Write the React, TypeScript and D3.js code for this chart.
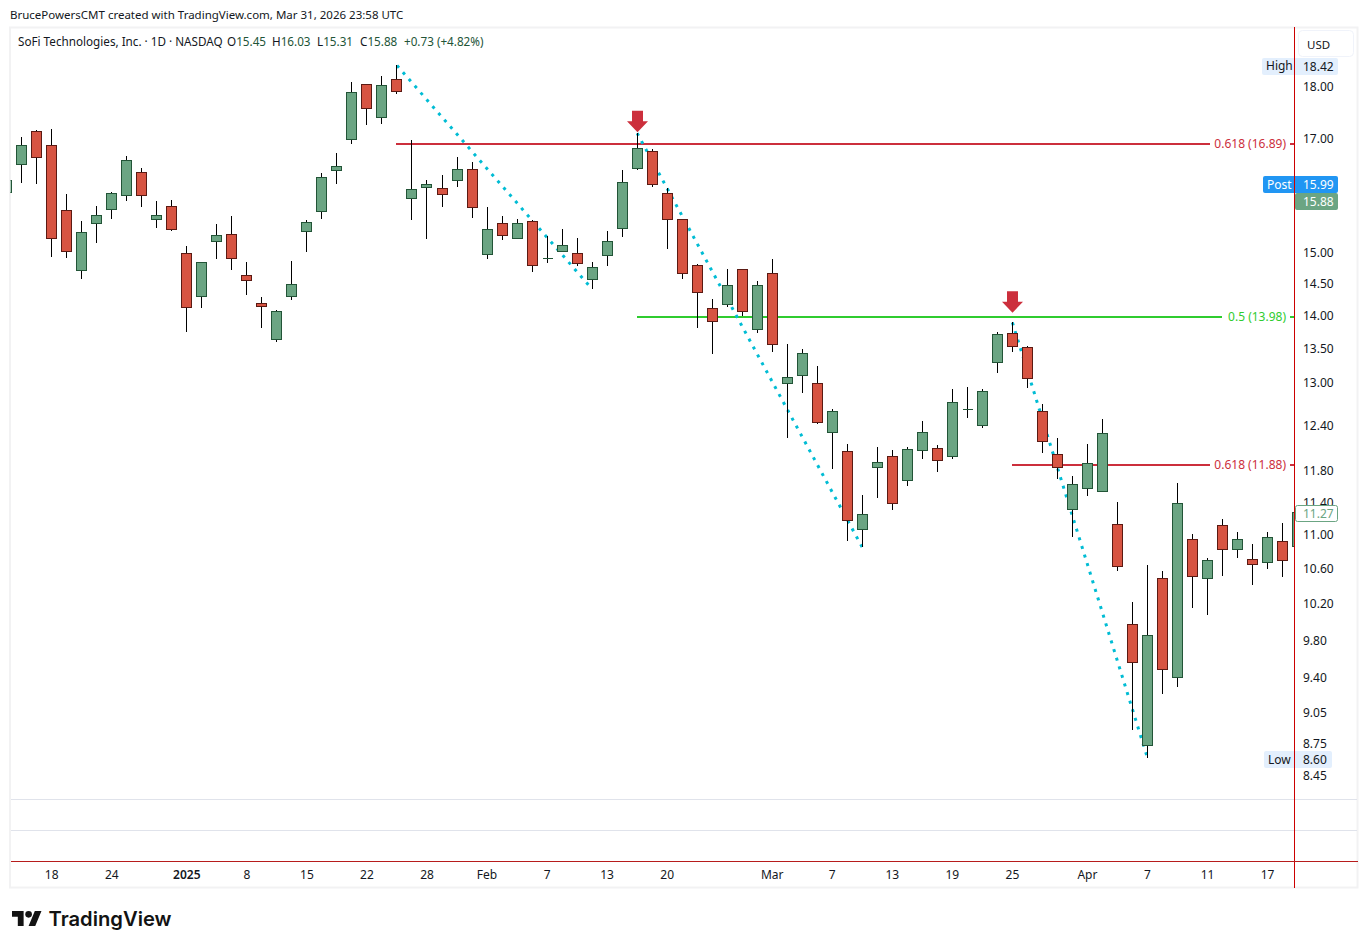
import * as d3 from 'd3'

const FONT = '"Noto Sans", sans-serif'
const INK = '#131722'
const UP_FILL = '#6ba583'
const UP_EDGE = '#225437'
const DOWN_FILL = '#d75442'
const DOWN_EDGE = '#5b1a13'
const DOTS = '#00bcd4'
const MARKER = '#cc2f3c'

const WIDTH = 1368
const HEIGHT = 949
const PANE = { left: 10, right: 1294.5, top: 27, bottom: 799 }

// daily bars, first one is cut off by the left edge of the pane
const opens = [
  16.02, 16.53, 17.14, 16.87, 15.71, 14.71, 15.49, 15.73, 15.97, 16.38, 15.56, 15.78, 14.99, 14.3, 15.19, 15.3, 14.63,
  14.19, 13.64, 14.3, 15.35, 15.69, 16.42, 16.99, 18.04, 17.4, 18.14, 15.92, 16.11, 16.1, 16.24, 16.44, 14.96, 15.49,
  15.23, 15.52, 14.9, 15.01, 14.99, 14.56, 14.95, 15.4, 16.45, 16.76, 16.01, 15.56, 14.79, 14.11, 14.17, 14.73, 13.79,
  14.65, 12.99, 13.11, 12.99, 12.31, 12.06, 11.06, 11.85, 11.99, 11.68, 12.07, 12.1, 11.99, 12.63, 12.41, 13.3, 13.73,
  13.51, 12.6, 12.02, 11.31, 11.58, 11.54, 11.13, 9.97, 8.73, 10.49, 9.4, 10.94, 10.48, 11.12, 10.82, 10.71, 10.67,
  10.92, 10.86,
]
const highs = [
  16.3, 17.02, 17.16, 17.18, 16.0, 15.52, 15.79, 16.03, 16.68, 16.46, 15.87, 15.89, 15.11, 14.84, 15.48, 15.61, 14.84,
  14.28, 14.08, 14.86, 15.55, 16.36, 16.73, 18.08, 18.04, 18.2, 18.42, 16.97, 16.24, 16.33, 16.65, 16.56, 15.77, 15.61,
  15.56, 15.54, 15.27, 15.39, 15.24, 14.84, 15.35, 16.42, 17.1, 16.8, 16.1, 15.56, 14.81, 14.26, 14.73, 14.73, 14.53,
  14.9, 13.56, 13.49, 13.24, 12.63, 12.16, 11.49, 12.11, 12.08, 12.11, 12.46, 12.14, 12.91, 12.94, 12.91, 13.75, 13.89,
  13.54, 12.7, 12.23, 11.73, 12.15, 12.49, 11.41, 10.22, 10.64, 10.57, 11.64, 11.01, 10.72, 11.19, 11.04, 10.89, 11.04,
  11.14, 11.27,
]
const lows = [
  15.95, 16.19, 16.18, 14.93, 14.91, 14.57, 15.16, 15.57, 15.88, 15.77, 15.41, 15.35, 13.75, 14.12, 14.9, 14.72, 14.32,
  13.81, 13.6, 14.23, 15.0, 15.57, 16.18, 16.89, 17.26, 17.28, 17.86, 15.55, 15.23, 15.76, 16.11, 15.58, 14.9, 15.2,
  15.23, 14.69, 14.83, 15.0, 14.78, 14.41, 14.78, 15.25, 16.43, 16.11, 15.06, 14.57, 13.81, 13.42, 14.13, 13.99, 13.73,
  13.44, 12.24, 12.85, 12.42, 11.82, 10.93, 10.85, 11.45, 11.31, 11.61, 11.96, 11.79, 11.96, 12.5, 12.37, 13.14, 13.45,
  12.93, 12.03, 11.69, 10.98, 11.48, 11.54, 10.57, 8.88, 8.61, 9.24, 9.31, 10.15, 10.07, 10.51, 10.72, 10.41, 10.59,
  10.5, 10.86,
]
const closes = [
  16.24, 16.87, 16.65, 15.24, 15.02, 15.34, 15.63, 16.01, 16.6, 15.97, 15.63, 15.39, 14.12, 14.84, 15.29, 14.9, 14.55,
  14.14, 14.06, 14.48, 15.51, 16.29, 16.49, 17.89, 17.57, 18.02, 17.91, 16.08, 16.17, 15.99, 16.44, 15.76, 15.39,
  15.28, 15.49, 14.79, 14.9, 15.12, 14.82, 14.76, 15.19, 16.2, 16.82, 16.17, 15.56, 14.66, 14.36, 13.91, 14.47, 14.06,
  14.47, 13.56, 13.08, 13.43, 12.45, 12.59, 11.18, 11.25, 11.91, 11.39, 12.08, 12.31, 11.94, 12.72, 12.63, 12.87, 13.71,
  13.53, 13.06, 12.19, 11.85, 11.63, 11.9, 12.3, 10.63, 9.56, 9.85, 9.49, 11.39, 10.51, 10.7, 10.82, 10.94, 10.65,
  10.97, 10.69, 11.27,
]

const priceTicks = [18, 17, 15, 14.5, 14, 13.5, 13, 12.4, 11.8, 11.4, 11, 10.6, 10.2, 9.8, 9.4, 9.05, 8.75, 8.45]
const timeTicks = [
  { bar: 3, label: '18' },
  { bar: 7, label: '24' },
  { bar: 12, label: '2025', bold: true },
  { bar: 16, label: '8' },
  { bar: 20, label: '15' },
  { bar: 24, label: '22' },
  { bar: 28, label: '28' },
  { bar: 32, label: 'Feb' },
  { bar: 36, label: '7' },
  { bar: 40, label: '13' },
  { bar: 44, label: '20' },
  { bar: 51, label: 'Mar' },
  { bar: 55, label: '7' },
  { bar: 59, label: '13' },
  { bar: 63, label: '19' },
  { bar: 67, label: '25' },
  { bar: 72, label: 'Apr' },
  { bar: 76, label: '7' },
  { bar: 80, label: '11' },
  { bar: 84, label: '17' },
]

const fibLevels = [
  { from: 26, price: 16.9, end: 1210, label: '0.618 (16.89)', color: '#cc2f3c' },
  { from: 42, price: 13.98, end: 1222, label: '0.5 (13.98)', color: '#2fcc2f' },
  { from: 67, price: 11.88, end: 1210, label: '0.618 (11.88)', color: '#cc2f3c' },
]
const trendLines = [
  { from: 26, fromPrice: 18.42, to: 39, toPrice: 14.41 },
  { from: 42, fromPrice: 17.1, to: 57, toPrice: 10.85 },
  { from: 67, fromPrice: 13.89, to: 76, toPrice: 8.61 },
]
const arrows = [
  { bar: 42, price: 17.12 },
  { bar: 67, price: 14.04 },
]

const x = d3.scaleLinear().domain([0, 86]).range([6.7, 1297.6])
const y = d3.scaleLog().domain([18, 8.45]).range([86.5, 775])
const barX = (i: number) => Math.round(x(i) - 0.5) + 0.5
const crisp = (v: number) => Math.round(v - 0.5) + 0.5

function bodyPath(i: number) {
  const p = d3.path()
  const top = crisp(y(Math.max(opens[i], closes[i])))
  const bottom = crisp(y(Math.min(opens[i], closes[i])))
  p.rect(barX(i) - 5, top, 10, bottom - top)
  return p.toString()
}

const trendPath = d3
  .line<[number, number]>()
  .x((d) => x(d[0]))
  .y((d) => y(d[1]))

function arrowPath(bar: number, price: number) {
  const cx = barX(bar)
  const tip = y(price)
  const p = d3.path()
  p.moveTo(cx, tip)
  p.lineTo(cx - 10.5, tip - 11)
  p.lineTo(cx - 5.5, tip - 11)
  p.lineTo(cx - 5.5, tip - 21.5)
  p.lineTo(cx + 5.5, tip - 21.5)
  p.lineTo(cx + 5.5, tip - 11)
  p.lineTo(cx + 10.5, tip - 11)
  p.closePath()
  return p.toString()
}

export default function App() {
  return (
    <svg
      width={WIDTH}
      height={HEIGHT}
      style={{ position: 'absolute', left: 0, top: 0, background: '#fff' }}
      fontFamily={FONT}
      fontSize={12}
      fill={INK}
    >
      <defs>
        <clipPath id="pane">
          <rect x={PANE.left + 0.5} y={PANE.top} width={PANE.right - PANE.left} height={PANE.bottom - PANE.top} />
        </clipPath>
      </defs>

      <text x={10} y={19} fontSize={11.5}>
        BrucePowersCMT created with TradingView.com, Mar 31, 2026 23:58 UTC
      </text>

      {/* frame and lower panes */}
      <rect x={10} y={27.5} width={1347.5} height={860} fill="none" stroke="#f2f2f3" strokeWidth={2} />
      <line x1={11} x2={1357} y1={799.5} y2={799.5} stroke="#e0e3eb" />
      <line x1={11} x2={1357} y1={830.5} y2={830.5} stroke="#e0e3eb" />

      {/* fib levels sit behind the candles */}
      {fibLevels.map((f) => (
        <g key={f.label} stroke={f.color} strokeWidth={2} shapeRendering="crispEdges">
          <line x1={barX(f.from) - 1} x2={f.end} y1={Math.round(y(f.price))} y2={Math.round(y(f.price))} />
          <line x1={1290} x2={1294} y1={Math.round(y(f.price))} y2={Math.round(y(f.price))} />
        </g>
      ))}

      <g clipPath="url(#pane)">
        {trendLines.map((t) => (
          <path
            key={t.from}
            d={
              trendPath([
                [t.from, t.fromPrice],
                [t.to, t.toPrice],
              ]) ?? ''
            }
            fill="none"
            stroke={DOTS}
            strokeWidth={3}
            strokeDasharray="3 6"
          />
        ))}

        {opens.map((_, i) => {
          const up = closes[i] >= opens[i]
          return (
            <g key={i} shapeRendering="crispEdges">
              <line x1={barX(i)} x2={barX(i)} y1={y(highs[i])} y2={y(lows[i])} stroke="#000" />
              <path d={bodyPath(i)} fill={up ? UP_FILL : DOWN_FILL} stroke={up ? UP_EDGE : DOWN_EDGE} />
            </g>
          )
        })}
      </g>

      {arrows.map((a) => (
        <path key={a.bar} d={arrowPath(a.bar, a.price)} fill={MARKER} />
      ))}

      {/* legend */}
      <text x={18} y={46} fontSize={11.7}>
        SoFi Technologies, Inc. · 1D · NASDAQ
      </text>
      {[
        { x: 227, key: 'O', value: '15.45' },
        { x: 272, key: 'H', value: '16.03' },
        { x: 317, key: 'L', value: '15.31' },
        { x: 360, key: 'C', value: '15.88' },
      ].map((d) => (
        <text key={d.key} x={d.x} y={46} fontSize={11.7}>
          {d.key}
          <tspan fill={UP_EDGE}>{d.value}</tspan>
        </text>
      ))}
      <text x={404} y={46} fontSize={11.7} fill={UP_EDGE}>
        +0.73 (+4.82%)
      </text>

      {/* fib labels */}
      {fibLevels.map((f) => (
        <text key={f.label} x={1286} y={y(f.price) + 4} textAnchor="end" fill={f.color}>
          {f.label}
        </text>
      ))}

      {/* price axis */}
      <rect x={1298.5} y={30.5} width={55} height={26} rx={4} fill="#fff" stroke="#f0f3fa" />
      <text x={1307} y={49} fontSize={11.5}>
        USD
      </text>
      {priceTicks.map((t) => (
        <text key={t} x={1303} y={y(t) + 4.5}>
          {t.toFixed(2)}
        </text>
      ))}

      {/* price labels */}
      <rect x={1262} y={58} width={76} height={17} rx={2} fill="#e3effd" />
      <text x={1266} y={70}>
        High
      </text>
      <text x={1303} y={71}>
        18.42
      </text>
      <rect x={1264} y={751} width={68} height={17} rx={2} fill="#e3effd" />
      <text x={1268} y={764}>
        Low
      </text>
      <text x={1303} y={764}>
        8.60
      </text>
      <rect x={1263} y={176} width={75} height={17} rx={2} fill="#2196f3" />
      <text x={1267} y={189} fill="#fff">
        Post
      </text>
      <text x={1303} y={189} fill="#fff">
        15.99
      </text>
      <rect x={1295} y={193} width={43} height={17} rx={2} fill={UP_FILL} />
      <text x={1303} y={206} fill="#fff">
        15.88
      </text>
      <rect x={1295.5} y={505.5} width={42} height={16} rx={2} fill="#fff" stroke={UP_FILL} />
      <text x={1303} y={518} fill={UP_FILL}>
        11.27
      </text>

      {/* crosshair */}
      <line x1={1294.5} x2={1294.5} y1={27} y2={888} stroke="#cc0000" />
      <line x1={11} x2={1358} y1={861.5} y2={861.5} stroke="#b71c1c" />

      {/* time axis */}
      {timeTicks.map((t) => (
        <text key={t.bar} x={x(t.bar)} y={879} textAnchor="middle" fontWeight={t.bold ? 600 : 400}>
          {t.label}
        </text>
      ))}

      {/* logo */}
      <g transform="translate(12,907.7) scale(0.83)" fill="#131313">
        <path d="M14 22H7V11H0V4h14v18ZM28 22h-8l7.5-18h8L28 22Z" />
        <circle cx={20} cy={8} r={4} />
      </g>
      <text x={48.5} y={926} fontFamily="Inter, sans-serif" fontWeight={600} fontSize={20.2} fill="#131313">
        TradingView
      </text>
    </svg>
  )
}
